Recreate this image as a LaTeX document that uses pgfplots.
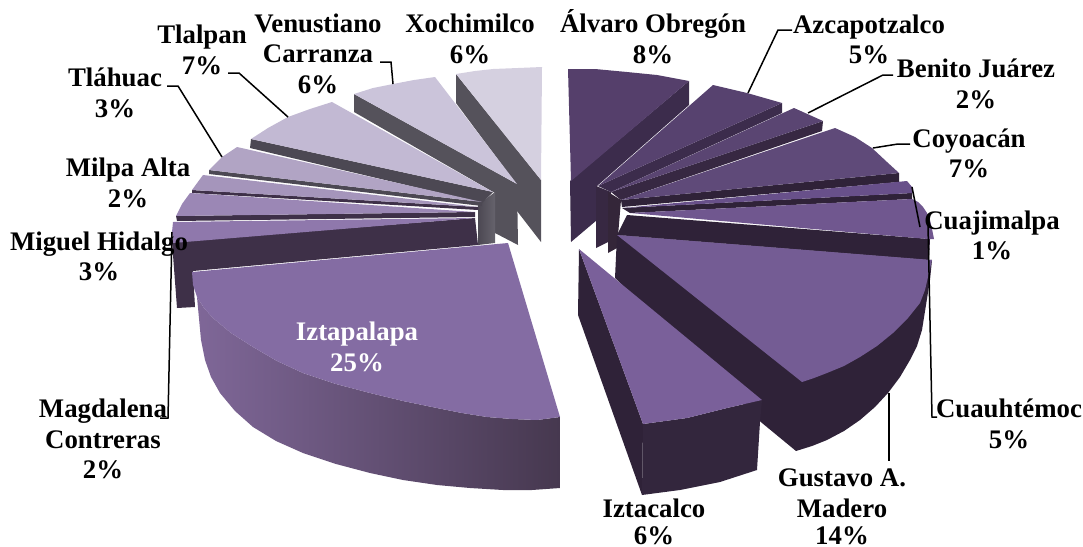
\documentclass[border=0pt]{standalone}
\usepackage{pgfplots}
\pgfplotsset{compat=1.18}
\usepackage{fontspec}
\setmainfont{Liberation Serif}
\newcommand\dc[1]{\definecolor{#1}{HTML}{#1}}
\dc{55525B}\dc{4C4853}\dc{66636C}\dc{2F2238}\dc{D5D0E0}\dc{CBC4DA}\dc{C2B9D3}\dc{B1A4C4}\dc{A595BB}\dc{9B87B5}\dc{8F78AC}\dc{3E3048}\dc{7F6798}\dc{46384F}\dc{846CA3}\dc{3C2C4C}\dc{553F6B}\dc{372842}\dc{57426F}\dc{342639}\dc{5A4572}\dc{5F4A79}\dc{68508A}\dc{70578F}\dc{745C94}\dc{33263D}\dc{7A609A}
\colorlet{gs}{55525B}\colorlet{gs2}{4C4853}\colorlet{ds}{2F2238}
\newcommand\poly[2]{\addplot[fill=#1,draw=none,forget plot] coordinates {#2};}
\newcommand\lead[1]{\addplot[black,line width=1.5pt,forget plot] coordinates {#1};}
\newcommand\lab[3][black]{\node[font=\bfseries\fontsize{26.8}{30}\selectfont,text=#1,anchor=base,inner sep=0pt] at (axis cs:#2) {#3};}
\begin{document}
\begin{tikzpicture}
\clip (0,0) rectangle (1083pt,546pt);
\begin{axis}[at={(0,0)},anchor=south west,scale only axis,width=1083pt,height=546pt,xmin=0,xmax=1083,ymin=0,ymax=546,y dir=reverse,hide axis,clip=false]
% --- left half, back to front
\poly{gs}{(456,74)(456,103)(517,185)(517,211)(541,242)(541,180)}
\poly{D5D0E0}{(456,74)(475,71)(493,69)(518,68)(542,67)(541,180)}
\poly{gs}{(354,94)(354,112)(495,193)(495,233)(518,245)(517,184)}
\poly{CBC4DA}{(354,94)(373,88)(393,84)(414,80)(435,77)(517,184)}
\addplot[left color=4C4853,right color=66636C,draw=none,forget plot] coordinates {(478,205)(495,192)(495,243)(478,245)};
\poly{gs2}{(251,139)(250,148)(482,203)(493,192)}
\poly{C2B9D3}{(251,139)(268,128)(288,117)(310,109)(332,102)(493,192)}
\poly{gs2}{(209,170)(209,174)(482,206)(482,202)}
\poly{B1A4C4}{(209,170)(222,157)(237,147)(482,202)}
\poly{3E3048}{(192,190)(192,193)(478,210)(478,207)}
\poly{A595BB}{(192,190)(203,175)(478,207)}
\poly{3E3048}{(176,216)(177,221)(475,217)(475,212)}
\poly{9B87B5}{(176,216)(182,204)(190,193)(475,212)}
\poly{3E3048}{(172,242)(475,218)(478,245)(193,271)(195,307)(177,308)}
\poly{8F78AC}{(173,222)(172,232)(173,243)(475,218)}
\addplot[left color=7F6798,right color=46384F,draw=none,forget plot] coordinates {(197,297)(204,308)(213,318)(231,333)(253,347)(277,361)(303,373)(336,384)(370,393)(403,401)(437,408)(462,413)(487,417)(512,419)(537,420)(560,417)(560,488)(532,490)(503,490)(470,488)(437,485)(403,480)(370,473)(336,464)(303,453)(276,441)(253,427)(235,411)(220,393)(211,377)(205,360)(201,340)};
\poly{846CA3}{(508,243)(560,417)(537,420)(512,419)(487,417)(462,413)(437,408)(403,401)(370,393)(336,384)(303,373)(277,361)(253,347)(231,333)(213,318)(204,308)(197,297)(193,285)(192,272)}
% --- right half
\poly{3C2C4C}{(570,181)(689,81)(689,105)(597,186)(597,220)(571,242)}
\poly{553F6B}{(568,69)(595,69)(627,72)(657,75)(689,81)(571,181)}
\poly{372842}{(596,186)(611,192)(608,242)(596,248)}
\poly{3C2C4C}{(598,186)(782,103)(782,113)(611,192)}
\poly{57426F}{(598,186)(713,85)(747,93)(782,103)}
\poly{342639}{(608,192)(621,200)(617,248)(608,253)}
\poly{372842}{(611,192)(823,121)(822,131)(621,200)}
\poly{5A4572}{(611,192)(794,108)(823,121)}
\poly{ds}{(621,200)(899,173)(899,182)(622,207)}
\poly{5F4A79}{(621,200)(835,128)(855,137)(872,148)(887,162)(899,173)}
\poly{ds}{(622,208)(912,193)(912,199)(630,213)}
\poly{68508A}{(623,208)(907,181)(912,187)(913,193)}
\poly{ds}{(627,215)(930,239)(929,260)(617,235)}
\poly{70578F}{(630,213)(912,199)(918,202)(923,207)(927,213)(930,220)(932,229)(934,239)(928,239)}
\poly{ds}{(617,235)(932,260)(930,280)(926,305)(922,330)(917,346)(910,360)(900,377)(888,393)(875,407)(860,420)(844,431)(827,440)(812,446)(796,451)(762,423)(615,278)}
\poly{745C94}{(617,235)(932,260)(928,277)(925,290)(920,303)(908,318)(893,333)(877,346)(860,357)(844,366)(827,373)(814,378)(802,382)}
\poly{ds}{(579,249)(643,424)(642,495)(578,315)}
\poly{33263D}{(643,424)(687,418)(727,408)(762,400)(760,422)(757,470)(720,482)(680,490)(642,495)}
\poly{7A609A}{(579,249)(762,400)(727,408)(687,418)(643,424)}
% --- leader lines
\lead{(748,93)(778,30)(792,30)}
\lead{(808,113)(883,75)(893,75)}
\lead{(873,148)(898,144)(910,144)}
\lead{(912,187)(920,227)}
\lead{(928,225)(932,417)(937,417)}
\lead{(889,393)(889,461)}
\lead{(172,232)(168,418)(160,418)}
\lead{(222,157)(178,86)(167,86)}
\lead{(288,117)(239,73)(228,73)}
\lead{(393,84)(391,62)(380,62)}
% --- labels
\lab{653,32}{Álvaro Obregón}\lab{653,63}{8\%}
\lab{869,33}{Azcapotzalco}\lab{869,63}{5\%}
\lab{976,77}{Benito Juárez}\lab{976,108}{2\%}
\lab{969,147}{Coyoacán}\lab{969,177}{7\%}
\lab{992,229}{Cuajimalpa}\lab{992,259}{1\%}
\lab{1009,417}{Cuauhtémoc}\lab{1009,448}{5\%}
\lab{842,486}{Gustavo A.}\lab{842,517}{Madero}\lab{842,544}{14\%}
\lab{654,517}{Iztacalco}\lab{654,544}{6\%}
\lab[white]{357,340}{Iztapalapa}\lab[white]{357,371}{25\%}
\lab{103,417}{Magdalena}\lab{103,448}{Contreras}\lab{103,478}{2\%}
\lab{99,250}{Miguel Hidalgo}\lab{99,280}{3\%}
\lab{128,176}{Milpa Alta}\lab{128,207}{2\%}
\lab{115,86}{Tláhuac}\lab{115,117}{3\%}
\lab{202,43}{Tlalpan}\lab{202,74}{7\%}
\lab{318,32}{Venustiano}\lab{318,62}{Carranza}\lab{318,93}{6\%}
\lab{470,32}{Xochimilco}\lab{470,63}{6\%}
\end{axis}
\end{tikzpicture}
\end{document}
